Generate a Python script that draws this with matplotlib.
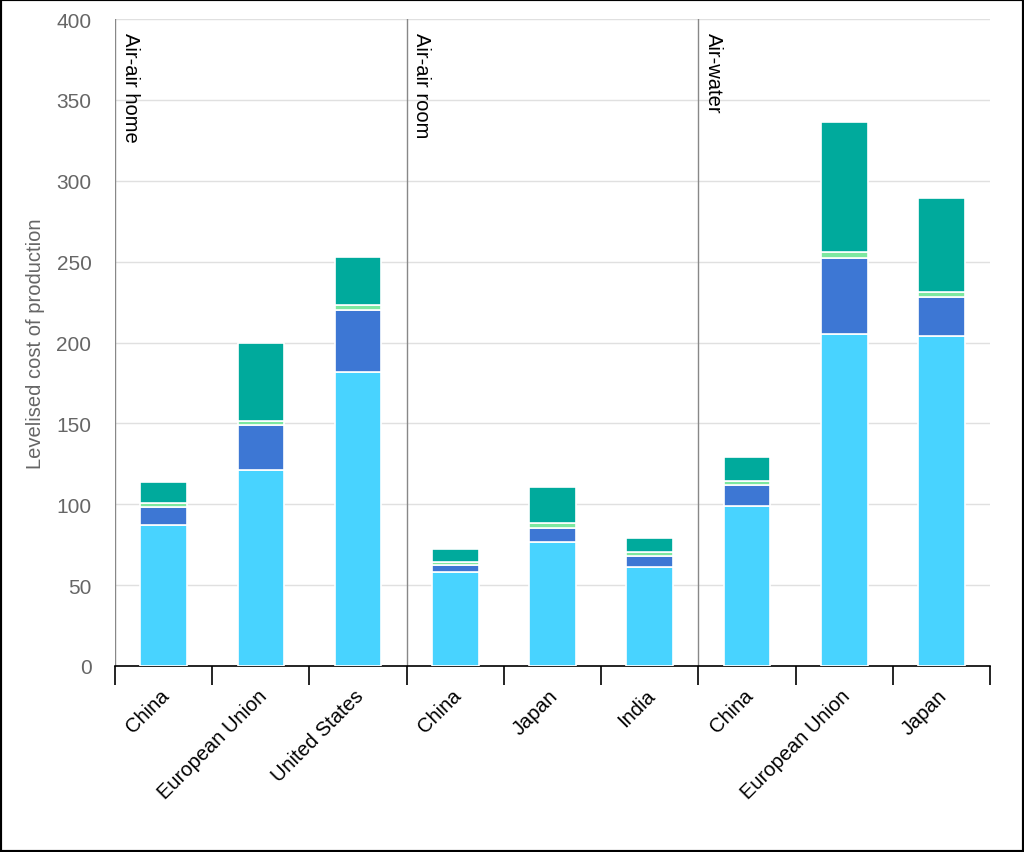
import matplotlib.pyplot as plt
import numpy as np

plt.rcParams['font.family'] = ['Liberation Sans', 'DejaVu Sans']

# categories and groups
countries = ["China", "European Union", "United States",
             "China", "Japan", "India",
             "China", "European Union", "Japan"]
groups = ["Air-air home", "Air-air room", "Air-water"]

# stacked segments
seg1 = [87, 121, 182, 58, 76.5, 61, 99, 205.5, 204]
seg2 = [11, 28, 38, 4.5, 9, 7, 13, 46.5, 24]
seg3 = [2.5, 2.5, 3, 2, 3, 2.5, 2.5, 4, 3]
seg4 = [13.5, 48, 30, 8, 22, 8.5, 15, 80.5, 58.5]

colors = ["#48d3ff", "#3d77d4", "#7de8a0", "#00aa9c"]

fig = plt.figure(figsize=(10.24, 8.53), dpi=100)
ax = fig.add_axes([115/1024, 1-667/853, 875/1024, 647/853])

x = np.arange(len(countries))
bottom = np.zeros(len(countries))
for vals, c in zip([seg1, seg2, seg3, seg4], colors):
    ax.bar(x, vals, 0.48, bottom=bottom, color=c, edgecolor="white",
           linewidth=1.2, zorder=3)
    bottom += np.array(vals)

ax.set_xlim(-0.5, len(countries) - 0.5)
ax.set_ylim(0, 400)
ax.set_yticks(np.arange(0, 401, 50))
ax.yaxis.grid(True, color="#e0e0e0", linewidth=1, zorder=0)
ax.tick_params(axis="y", length=0, pad=17, labelsize=15, labelcolor="#666666")
ax.set_ylabel("Levelised cost of production", fontsize=14.5, color="#666666", labelpad=8)

ax.set_xticks(x - 0.04)
ax.set_xticklabels(countries, rotation=45, ha="right", rotation_mode="anchor", fontsize=14.5)
ax.tick_params(axis="x", which="major", length=0, pad=14)
ax.set_xticks(np.arange(-0.5, len(countries), 1), minor=True)
ax.tick_params(axis="x", which="minor", length=14, width=1.2, color="black")

for s in ["top", "right", "left"]:
    ax.spines[s].set_visible(False)
ax.spines["bottom"].set_color("black")
ax.spines["bottom"].set_linewidth(1.2)

# group separators and labels
for i, g in enumerate(groups):
    xpos = i * 3 - 0.5
    ax.axvline(xpos, color="#888888", linewidth=1, zorder=2)
    ax.text(xpos + 0.06, 392, g, rotation=270, ha="left", va="top", fontsize=14.5)

fig.patches.append(plt.Rectangle((0, 0), 1, 1, transform=fig.transFigure,
                                 fill=False, edgecolor="black", linewidth=3))

fig.savefig("out.png", dpi=100)
